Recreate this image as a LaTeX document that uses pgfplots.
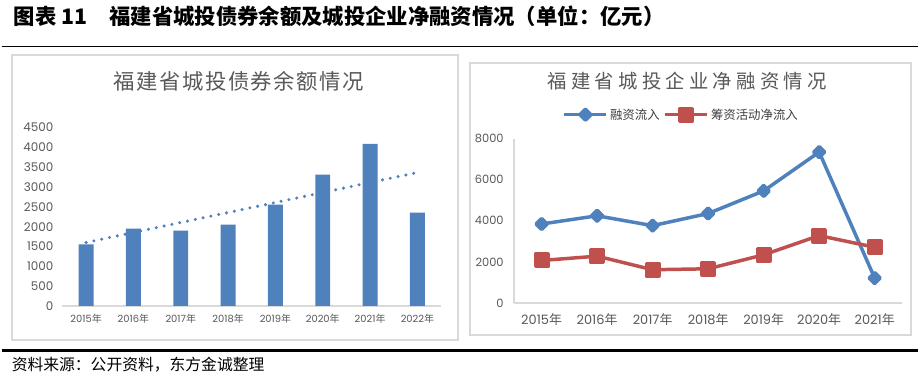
\documentclass[border=0pt]{standalone}
\usepackage{fontspec}
\usepackage{pgfplots}
\pgfplotsset{compat=1.18}
\setmainfont{Noto Sans CJK SC}
\newfontfamily\cjk{Noto Sans CJK SC}
\newfontfamily\num{Poppins}
\definecolor{barblue}{HTML}{4F81BD}
\definecolor{linered}{HTML}{C0504D}
\definecolor{txtgray}{HTML}{595959}
\definecolor{leggray}{HTML}{404040}
\definecolor{framegray}{HTML}{D9D9D9}
\newcommand{\yr}[1]{{\num #1}{\cjk 年}}
\begin{document}
\begin{tikzpicture}[x=1bp,y=1bp]
\path[fill=white] (0,0) rectangle (920,379);
% header
\node[anchor=west, inner sep=0, font=\fontsize{21.5}{21.5}\selectfont\bfseries] at (12,363) {图表 11};
\node[anchor=west, inner sep=0, font=\fontsize{21.5}{21.5}\selectfont\bfseries] at (108,363) {福建省城投债券余额及城投企业净融资情况（单位：亿元）};
\draw[black, line width=1.2bp] (0,332) -- (920,332);
\draw[black, line width=3.3bp] (0,27) -- (920,27);
\node[anchor=west, inner sep=0, font=\fontsize{15.9}{16}\selectfont] at (10,13.5) {资料来源：公开资料，东方金诚整理};
% frames
\draw[framegray, line width=2bp] (10,324) rectangle (458,38);
\draw[framegray, line width=2bp] (470,316) rectangle (913,43);
% chart titles
\node[font=\fontsize{21.5}{22}\selectfont\addfontfeature{LetterSpace=7}, text=txtgray] at (238,297) {福建省城投债券余额情况};
\node[font=\fontsize{19.5}{20}\selectfont\addfontfeature{LetterSpace=22}, text=txtgray] at (688,298) {福建省城投企业净融资情况};

% left chart
\begin{axis}[
  at={(61bp,72bp)}, anchor=south west, scale only axis,
  width=380bp, height=179bp,
  xmin=-0.5, xmax=7.5, ymin=0, ymax=4500,
  axis x line*=bottom, axis y line*=left,
  y axis line style={draw=none},
  x axis line style={draw=framegray, line width=1.5bp},
  major tick length=0pt, tick style={draw=none},
  xtick={0,...,7},
  xticklabels={\yr{2015},\yr{2016},\yr{2017},\yr{2018},\yr{2019},\yr{2020},\yr{2021},\yr{2022}},
  ytick={0,500,...,4500},
  /pgf/number format/assume math mode=true,
  /pgf/number format/1000 sep={},
  yticklabel style={font=\fontsize{12}{12}\selectfont\num, text=txtgray, inner sep=0pt, anchor=east, xshift=-9bp},
  xticklabel style={font=\fontsize{10}{10}\selectfont, text=txtgray, inner sep=0pt, anchor=center, yshift=-13bp},
  clip=false,
]
\addplot[ybar, bar width=15bp, fill=barblue, draw=none] coordinates {
  (0,1550) (1,1952) (2,1902) (3,2053) (4,2556) (5,3310) (6,4089) (7,2355)};
\addplot[barblue, line width=3.4bp, line cap=round, dash pattern=on 0bp off 8bp] coordinates {
  (0,1600) (7,3365)};
\end{axis}

% right chart
\begin{axis}[
  at={(514bp,75bp)}, anchor=south west, scale only axis,
  width=390bp, height=165bp,
  xmin=-0.5, xmax=6.5, ymin=0, ymax=8000,
  axis x line*=bottom, axis y line*=left,
  axis line style={draw=framegray, line width=1.5bp},
  major tick length=0pt, tick style={draw=none},
  xtick={0,...,6},
  xticklabels={\yr{2015},\yr{2016},\yr{2017},\yr{2018},\yr{2019},\yr{2020},\yr{2021}},
  ytick={0,2000,...,8000},
  /pgf/number format/assume math mode=true,
  /pgf/number format/1000 sep={},
  yticklabel style={font=\fontsize{11.5}{11.5}\selectfont\num, text=txtgray, inner sep=0pt, anchor=east, xshift=-10bp},
  xticklabel style={font=\fontsize{13}{13}\selectfont\addfontfeature{LetterSpace=9}, text=txtgray, inner sep=0pt, anchor=center, yshift=-17bp},
  clip=false,
  legend style={at={(0.431,1.145)}, anchor=center, draw=none, fill=none,
    legend columns=2, font=\fontsize{12.5}{12.5}\selectfont, text=leggray,
    inner sep=0pt, nodes={inner sep=2bp},
    /tikz/every even column/.append style={column sep=2bp}},
  legend cell align=left,
  legend image code/.code={\draw[mark repeat=2, mark phase=2, #1] plot coordinates {(0bp,0bp) (21bp,0bp) (42bp,0bp)};},
]
\addplot[barblue, line width=3.5bp, line join=round, mark=square*, mark size=3.9bp,
  mark options={rotate=45, solid, draw=none, fill=barblue}] coordinates {
  (0,3840) (1,4240) (2,3760) (3,4350) (4,5450) (5,7340) (6,1210)};
\addlegendentry{融资流入}
\addplot[linered, line width=3.5bp, line join=round, mark=square*, mark size=6.3bp,
  mark options={solid, draw=none, fill=linered}] coordinates {
  (0,2065) (1,2275) (2,1615) (3,1660) (4,2340) (5,3275) (6,2710)};
\addlegendentry{筹资活动净流入}
\end{axis}
\end{tikzpicture}
\end{document}
